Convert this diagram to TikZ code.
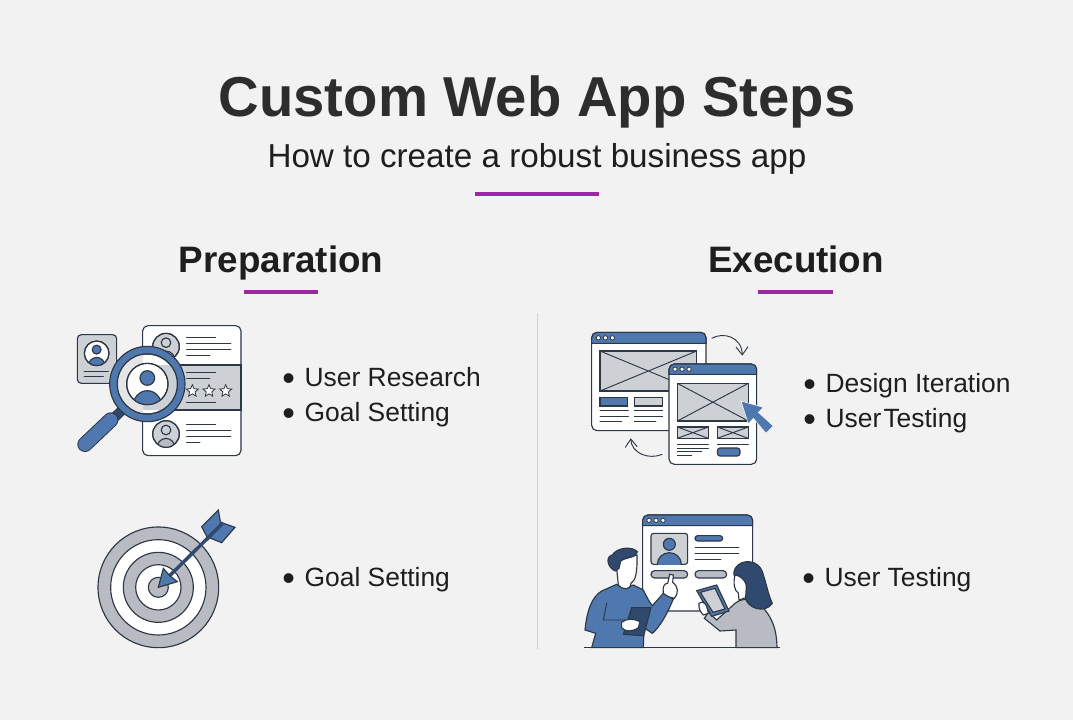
\documentclass[tikz,border=0pt]{standalone}
\usepackage{fontspec}
\setmainfont{Liberation Sans}
\usetikzlibrary{shapes.geometric,arrows.meta}
\definecolor{bgc}{HTML}{F2F2F2}
\definecolor{ink}{HTML}{2E3744}
\definecolor{blu}{HTML}{4F78AE}
\definecolor{navy}{HTML}{2F4A6E}
\definecolor{gr}{HTML}{CDD0D4}
\definecolor{grd}{HTML}{B8BCC2}
\definecolor{lensl}{HTML}{E6E6E6}
\definecolor{pur}{HTML}{9C27A0}
\definecolor{txt}{HTML}{1E1E1E}
\definecolor{ttl}{HTML}{2D2D2D}
\tikzset{
 ln/.style={draw=ink,line width=.85pt},
 thin/.style={draw=ink,line width=.7pt,line cap=round},
 rule/.style={draw=pur,line width=3.2pt},
 head/.style={font=\bfseries\fontsize{27.6}{30}\selectfont,text=txt,inner sep=0pt,anchor=base},
 item/.style={font=\fontsize{19.8}{22}\selectfont,text=txt,inner sep=0pt,anchor=base west},
 zoomed/.style={x=.25pt,y=-.25pt},
 starshape/.style={star,star points=5,star point ratio=2.2,minimum size=9.5pt,inner sep=0pt,draw=ink,line width=.6pt,fill=white},
}
\newcommand{\bul}{\makebox[16.8pt][l]{\raisebox{-3.2pt}{\fontsize{27}{27}\selectfont •}}}
\newcommand{\avatar}[6]{% x y r fill headfill bodyfill
 \draw[ln,fill=#4] (#1,#2) circle (#3);
 \begin{scope}
  \clip (#1,#2) circle (#3);
  \draw[ln,fill=#5] (#1,#2-#3*.3) circle (#3*.36);
  \draw[ln,fill=#6] (#1,#2+#3*1.05) ellipse (#3*.68 and #3*.72);
 \end{scope}
 \draw[ln] (#1,#2) circle (#3);
}
\newcommand{\wx}[4]{% wireframe box
 \draw[ln,fill=gr] (#1,#2) rectangle (#3,#4);
 \draw[thin] (#1,#2) -- (#3,#4) (#1,#4) -- (#3,#2);
}
\newcommand{\winbar}[6]{% x1 y1 x2 y2 barbottom dotoffset
 \draw[ln,fill=white,rounded corners=4pt] (#1,#2) rectangle (#3,#4);
 \draw[ln,fill=blu] (#1,#5) -- (#1,#2+15) [rounded corners=4pt] -- (#1,#2) -- (#3,#2) [sharp corners] -- (#3,#5) -- cycle;
 \foreach \d in {0,1,2} \draw[draw=ink,line width=.6pt,fill=white] (#1+#6+\d*21,#2+#5/2-#2/2) circle (6.5);
}
\begin{document}
\begin{tikzpicture}[x=.75pt,y=-.75pt]
\useasboundingbox (0,0) rectangle (1073,720);
\fill[bgc] (0,0) rectangle (1073,720);
% titles
\node[font=\bfseries\fontsize{42.2}{48}\selectfont,text=ttl,inner sep=0pt,anchor=base] (title) at (537,117) {Custom Web App Steps};
\node[font=\fontsize{24.9}{30}\selectfont,text=txt,inner sep=0pt,anchor=base] (subtitle) at (537,168) {How to create a robust business app};
\draw[rule] (475,194) -- (599,194);
\node[head] (prep) at (281,272) {Preparation};
\draw[rule] (244,292) -- (318,292);
\node[head] (exec) at (796,272) {Execution};
\draw[rule] (758,292) -- (833,292);
\draw[draw=gr,line width=.75pt] (537,313) -- (537,649);
% items
\node[item] (i1) at (282,386) {\bul User Research};
\node[item] (i2) at (282,421) {\bul Goal Setting};
\node[item] (i3) at (282,586) {\bul Goal Setting};
\node[item] (i4) at (803,392) {\bul Design Iteration};
\node[item] (i5) at (803,427) {\bul User\hspace{.08em}Testing};
\node[item] (i6) at (802,586) {\bul User Testing};

% ---------- research icon
\begin{scope}[shift={(60,310)},zoomed]
 \draw[ln,fill=gr,rounded corners=3pt] (52,74) rectangle (170,220);
 \avatar{110}{130}{37}{white}{blu}{blu}
 \draw[thin] (72,184) -- (145,184) (72,198) -- (130,198);
 \draw[ln,fill=white,rounded corners=4pt] (248,47) rectangle (543,437);
 \draw[ln,fill=gr] (248,165) rectangle (543,300);
 \avatar{318}{110}{40}{gr}{gr}{white}
 \avatar{318}{372}{40}{gr}{gr}{grd}
 \draw[thin] (380,82) -- (467,82) (380,100) -- (513,100) (380,118) -- (513,118) (380,136) -- (450,136);
 \draw[thin] (380,188) -- (467,188) (380,206) -- (450,206) (380,277) -- (467,277);
 \draw[thin] (380,343) -- (467,343) (380,361) -- (513,361) (380,379) -- (513,379) (380,397) -- (420,397);
 \node[starshape] (s1) at (397,243) {};
 \node[starshape] (s2) at (447,243) {};
 \node[starshape] (s3) at (497,243) {};
 % handle
 \draw[draw=ink,line width=7.5pt] (150,335) -- (190,297);
 \draw[draw=navy,line width=6pt] (150,335) -- (190,297);
 \draw[draw=ink,line width=11.5pt,line cap=round] (75,403) -- (152,330);
 \draw[draw=blu,line width=10pt,line cap=round] (75,403) -- (152,330);
 % lens
 \draw[ln,fill=blu] (262,222) circle (113);
 \draw[ln,fill=white] (262,222) circle (90);
 \begin{scope}
  \clip (262,222) circle (90);
  \fill[lensl] (172,130) rectangle (248,312);
  \fill[gr] (248,165) rectangle (352,300);
 \end{scope}
 \draw[ln] (262,222) circle (90);
 \draw[ln,fill=white] (262,222) circle (62);
 \begin{scope}
  \clip (262,222) circle (62);
  \draw[ln,fill=blu] (262,204) circle (22);
  \draw[ln,fill=blu] (262,292) ellipse (44 and 50);
 \end{scope}
 \draw[ln] (262,222) circle (62);
\end{scope}

% ---------- target icon
\begin{scope}[shift={(80,500)},zoomed]
 \draw[ln,fill=grd] (235,262) circle (181);
 \draw[ln,fill=white] (235,262) circle (143);
 \draw[ln,fill=grd] (235,262) circle (105);
 \draw[ln,fill=white] (235,262) circle (68);
 \draw[ln,fill=grd] (235,262) circle (30);
 \draw[ln,fill=blu] (385,118) -- (365,80) -- (415,30) -- (422,70) -- cycle;
 \draw[ln,fill=blu] (385,112) -- (425,128) -- (465,82) -- (425,68) -- cycle;
 \draw[draw=navy,line width=2.6pt] (262,234) -- (430,68);
 \draw[ln,fill=blu] (235,262) -- (250,205) -- (268,226) -- (292,245) -- cycle;
\end{scope}

% ---------- design icon
\begin{scope}[shift={(580,320)},zoomed]
 \winbar{35}{37}{378}{332}{70}{20}
 \wx{60}{93}{350}{213}
 \draw[ln,fill=blu] (60,232) rectangle (143,258);
 \draw[ln,fill=gr] (163,232) rectangle (248,258);
 \draw[thin] (60,272) -- (145,272) (60,288) -- (145,288) (60,303) -- (125,303);
 \draw[thin] (163,272) -- (248,272) (163,288) -- (248,288) (163,303) -- (228,303);
 \winbar{267}{132}{530}{433}{163}{18}
 \wx{292}{190}{505}{303}
 \wx{292}{321}{385}{355}
 \wx{412}{321}{505}{355}
 \draw[thin] (292,372) -- (385,372) (292,384) -- (385,384) (292,395) -- (365,395) (292,407) -- (335,407);
 \draw[thin] (412,372) -- (505,372);
 \draw[ln,fill=blu,rounded corners=2pt] (412,384) rectangle (480,408);
 \draw[draw=ink,line width=.7pt,-{Straight Barb[length=6pt,width=9pt]}] (395,55) .. controls (430,35) and (485,50) .. (487,107);
 \draw[draw=ink,line width=.7pt,-{Straight Barb[length=6pt,width=9pt]}] (247,403) .. controls (205,420) and (155,400) .. (152,355);
 \draw[draw=white,line width=.4pt,fill=blu] (483,243) -- (550,262) -- (535,277) -- (580,318) -- (558,340) -- (520,295) -- (505,312) -- cycle;
\end{scope}

% ---------- testing icon
\begin{scope}[shift={(575,505)},zoomed]
 \winbar{203}{30}{533}{318}{62}{19}
 \draw[ln,fill=gr,rounded corners=2pt] (228,85) rectangle (338,178);
 \begin{scope}
  \clip (228,85) rectangle (338,178);
  \draw[ln,fill=blu] (283,118) circle (18);
  \draw[ln,fill=blu] (283,178) ellipse (36 and 35);
 \end{scope}
 \draw[ln,fill=blu,rounded corners=2pt] (360,92) rectangle (443,108);
 \draw[thin] (360,126) -- (492,126) (360,145) -- (492,145) (360,162) -- (438,162);
 \draw[ln,fill=grd,rounded corners=2.7pt] (228,197) rectangle (338,219);
 \draw[ln,fill=grd,rounded corners=2.7pt] (360,197) rectangle (455,219);
 % man
 \draw[ln,fill=blu] (50,428) -- (62,385) -- (30,375) .. controls (35,320) and (50,275) .. (80,258)
   -- (125,238) .. controls (140,250) and (160,250) .. (175,240) -- (205,255) .. controls (215,275) and (222,290) .. (232,302)
   -- (265,265) -- (295,282) .. controls (275,330) and (255,365) .. (232,385) -- (207,368) -- (205,428) -- cycle;
 \draw[thin] (95,295) -- (85,345) -- (150,345);
 \draw[ln,fill=white] (125,190) -- (130,240) .. controls (145,256) and (165,256) .. (168,235) .. controls (182,225) and (187,205) .. (186,150) -- (135,158) -- cycle;
 \draw[ln,fill=navy] (122,198) .. controls (100,192) and (88,155) .. (112,150) .. controls (125,128) and (170,122) .. (187,140)
   .. controls (185,160) and (155,155) .. (137,168) -- (132,190) -- cycle;
 \draw[ln,fill=navy] (170,308) -- (228,308) -- (206,392) -- (145,388) -- cycle;
 \draw[ln,fill=white] (140,352) .. controls (155,340) and (175,340) .. (195,350) -- (190,368) .. controls (170,382) and (150,380) .. (140,368) -- cycle;
 \draw[ln,fill=white] (265,265) .. controls (262,245) and (268,235) .. (278,235) -- (284,208) -- (295,210) -- (293,232) .. controls (310,245) and (312,265) .. (298,280) -- (280,275) -- cycle;
 % woman
 \draw[ln,fill=grd] (483,428) -- (483,375) -- (435,378) -- (388,340) -- (400,322) -- (425,345) -- (480,295) .. controls (510,270) and (550,290) .. (570,315)
   .. controls (590,340) and (605,370) .. (606,428) -- cycle;
 \draw[ln,fill=navy] (522,170) .. controls (490,168) and (468,195) .. (480,218) -- (510,275) .. controls (515,310) and (570,328) .. (592,295)
   .. controls (580,270) and (575,240) .. (565,210) .. controls (560,185) and (542,171) .. (522,170) -- cycle;
 \draw[ln,fill=white] (480,210) .. controls (474,235) and (478,258) .. (490,264) -- (492,285) -- (512,278) -- (514,240) .. controls (508,222) and (495,212) .. (480,210) -- cycle;
 \draw[ln,fill=blu] (365,257) -- (425,240) -- (462,318) -- (410,334) -- cycle;
 \draw[ln,fill=gr] (376,262) -- (420,250) -- (450,312) -- (414,322) -- cycle;
 \draw[ln,fill=white] (372,295) .. controls (385,285) and (395,295) .. (400,325) -- (385,330) .. controls (375,320) and (370,308) .. (372,295) -- cycle;
 % ground
 \draw[draw=ink,line width=.85pt] (27,428) -- (615,428);
\end{scope}
\end{tikzpicture}
\end{document}
